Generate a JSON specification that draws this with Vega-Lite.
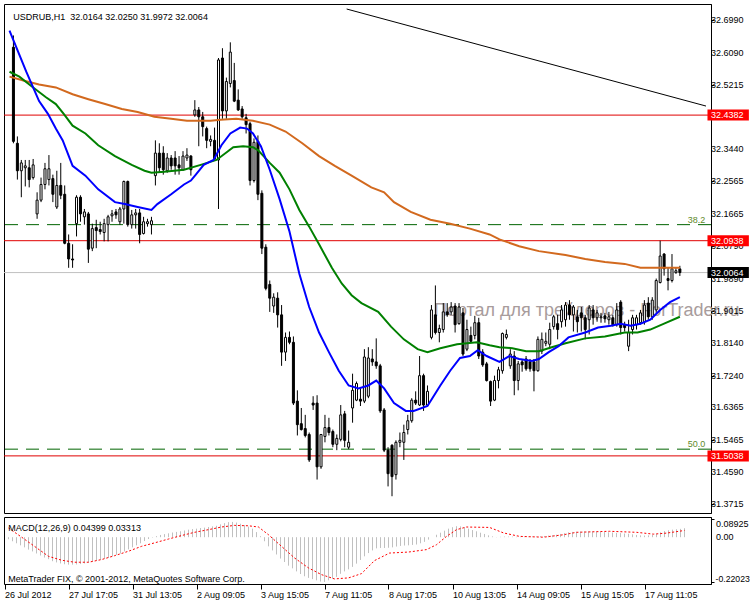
{
  "$schema": "https://vega.github.io/schema/vega-lite/v6.json",
  "background": "white",
  "padding": {"left": 3, "top": 3, "right": 0, "bottom": 0},
  "spacing": 2,
  "config": {
    "view": {"stroke": "#000000", "strokeWidth": 1},
    "axis": {"grid": false, "labelFont": "Liberation Sans", "labelFontSize": 9, "labelColor": "#000000", "tickColor": "#000000", "domainColor": "#000000", "labelOverlap": false, "labelBound": false, "labelFlush": false},
    "text": {"font": "Liberation Sans", "fontSize": 9}
  },
  "datasets": {
    "candles": [
      {"i":0,"o":32.6243,"h":32.6566,"l":32.3609,"c":32.3662},
      {"i":1,"o":32.3609,"h":32.3797,"l":32.2614,"c":32.2856},
      {"i":2,"o":32.2856,"h":32.3152,"l":32.2130,"c":32.3071},
      {"i":3,"o":32.2937,"h":32.3152,"l":32.2426,"c":32.2990},
      {"i":4,"o":32.2937,"h":32.3152,"l":32.2400,"c":32.2614},
      {"i":5,"o":32.2668,"h":32.3179,"l":32.2614,"c":32.3017},
      {"i":6,"o":32.1673,"h":32.2265,"l":32.1539,"c":32.2050},
      {"i":7,"o":32.2050,"h":32.2668,"l":32.1996,"c":32.2480},
      {"i":8,"o":32.2480,"h":32.3071,"l":32.2346,"c":32.2910},
      {"i":9,"o":32.2614,"h":32.3286,"l":32.2453,"c":32.2910},
      {"i":10,"o":32.2641,"h":32.2749,"l":32.1996,"c":32.2211},
      {"i":11,"o":32.1862,"h":32.2856,"l":32.1808,"c":32.2453},
      {"i":12,"o":32.2453,"h":32.3071,"l":32.2077,"c":32.2184},
      {"i":13,"o":32.2211,"h":32.2453,"l":32.0840,"c":32.0867},
      {"i":14,"o":32.0867,"h":32.1109,"l":32.0195,"c":32.0437},
      {"i":15,"o":32.0437,"h":32.0840,"l":32.0195,"c":32.0410},
      {"i":16,"o":32.1405,"h":32.2184,"l":32.1055,"c":32.2130},
      {"i":17,"o":32.2130,"h":32.2184,"l":32.1458,"c":32.1673},
      {"i":18,"o":32.1593,"h":32.1808,"l":32.1378,"c":32.1727},
      {"i":19,"o":32.1673,"h":32.1727,"l":32.0329,"c":32.0706},
      {"i":20,"o":32.0733,"h":32.1405,"l":32.0652,"c":32.1270},
      {"i":21,"o":32.1297,"h":32.1512,"l":32.0733,"c":32.1216},
      {"i":22,"o":32.1243,"h":32.1458,"l":32.1109,"c":32.1190},
      {"i":23,"o":32.1163,"h":32.1539,"l":32.0920,"c":32.1405},
      {"i":24,"o":32.1378,"h":32.1647,"l":32.0920,"c":32.1593},
      {"i":25,"o":32.1620,"h":32.1781,"l":32.1458,"c":32.1673},
      {"i":26,"o":32.1727,"h":32.1808,"l":32.1539,"c":32.1647},
      {"i":27,"o":32.1458,"h":32.1862,"l":32.1378,"c":32.1808},
      {"i":28,"o":32.1808,"h":32.2587,"l":32.1405,"c":32.2561},
      {"i":29,"o":32.2561,"h":32.2587,"l":32.1324,"c":32.1378},
      {"i":30,"o":32.1378,"h":32.1781,"l":32.1270,"c":32.1647},
      {"i":31,"o":32.1647,"h":32.1808,"l":32.1270,"c":32.1700},
      {"i":32,"o":32.1700,"h":32.1808,"l":32.0867,"c":32.1109},
      {"i":33,"o":32.1136,"h":32.1593,"l":32.1109,"c":32.1458},
      {"i":34,"o":32.1405,"h":32.1539,"l":32.1324,"c":32.1458},
      {"i":35,"o":32.1378,"h":32.1593,"l":32.1109,"c":32.1485},
      {"i":36,"o":32.2722,"h":32.3689,"l":32.2453,"c":32.3340},
      {"i":37,"o":32.3340,"h":32.3609,"l":32.2802,"c":32.2937},
      {"i":38,"o":32.3340,"h":32.3528,"l":32.2749,"c":32.2883},
      {"i":39,"o":32.2856,"h":32.3340,"l":32.2802,"c":32.3206},
      {"i":40,"o":32.3206,"h":32.3286,"l":32.2883,"c":32.2990},
      {"i":41,"o":32.3206,"h":32.3394,"l":32.2749,"c":32.2990},
      {"i":42,"o":32.3017,"h":32.3259,"l":32.2749,"c":32.2937},
      {"i":43,"o":32.2883,"h":32.3394,"l":32.2856,"c":32.3259},
      {"i":44,"o":32.3206,"h":32.3474,"l":32.3125,"c":32.3286},
      {"i":45,"o":32.3259,"h":32.3286,"l":32.2722,"c":32.2883},
      {"i":46,"o":32.4388,"h":32.4792,"l":32.4335,"c":32.4523},
      {"i":47,"o":32.4523,"h":32.4603,"l":32.3528,"c":32.4335},
      {"i":48,"o":32.4335,"h":32.4469,"l":32.3797,"c":32.4066},
      {"i":49,"o":32.4012,"h":32.4066,"l":32.3474,"c":32.3689},
      {"i":50,"o":32.3662,"h":32.3824,"l":32.3528,"c":32.3716},
      {"i":51,"o":32.3689,"h":32.4039,"l":32.3152,"c":32.3179},
      {"i":52,"o":32.3152,"h":32.5947,"l":32.1808,"c":32.5894},
      {"i":53,"o":32.5947,"h":32.6216,"l":32.4281,"c":32.4496},
      {"i":54,"o":32.4496,"h":32.5410,"l":32.4281,"c":32.5302},
      {"i":55,"o":32.5249,"h":32.6377,"l":32.5141,"c":32.6109},
      {"i":56,"o":32.5329,"h":32.5813,"l":32.4738,"c":32.4765},
      {"i":57,"o":32.4792,"h":32.5087,"l":32.4496,"c":32.4523},
      {"i":58,"o":32.4550,"h":32.4630,"l":32.4281,"c":32.4335},
      {"i":59,"o":32.4308,"h":32.4415,"l":32.3878,"c":32.4120},
      {"i":60,"o":32.4146,"h":32.4200,"l":32.2453,"c":32.2587},
      {"i":61,"o":32.2587,"h":32.3743,"l":32.2534,"c":32.3636},
      {"i":62,"o":32.3662,"h":32.3824,"l":32.2050,"c":32.2211},
      {"i":63,"o":32.2238,"h":32.2319,"l":32.0572,"c":32.0733},
      {"i":64,"o":32.0760,"h":32.0840,"l":31.9577,"c":31.9631},
      {"i":65,"o":31.9738,"h":31.9846,"l":31.8986,"c":31.9362},
      {"i":66,"o":31.9147,"h":31.9496,"l":31.8959,"c":31.9389},
      {"i":67,"o":31.9362,"h":31.9523,"l":31.8556,"c":31.8905},
      {"i":68,"o":31.8905,"h":31.9174,"l":31.7507,"c":31.7883},
      {"i":69,"o":31.7883,"h":31.8421,"l":31.7641,"c":31.8287},
      {"i":70,"o":31.8287,"h":31.8448,"l":31.8098,"c":31.8152},
      {"i":71,"o":31.8152,"h":31.8313,"l":31.6432,"c":31.6486},
      {"i":72,"o":31.6539,"h":31.6835,"l":31.5598,"c":31.5894},
      {"i":73,"o":31.5921,"h":31.6351,"l":31.5733,"c":31.5760},
      {"i":74,"o":31.5787,"h":31.6163,"l":31.5545,"c":31.5598},
      {"i":75,"o":31.5625,"h":31.5679,"l":31.4872,"c":31.4927},
      {"i":76,"o":31.6486,"h":31.6674,"l":31.6298,"c":31.6432},
      {"i":77,"o":31.6486,"h":31.6701,"l":31.4389,"c":31.4738},
      {"i":78,"o":31.4738,"h":31.5625,"l":31.4684,"c":31.5625},
      {"i":79,"o":31.5572,"h":31.6163,"l":31.5410,"c":31.5814},
      {"i":80,"o":31.5814,"h":31.6082,"l":31.5598,"c":31.5679},
      {"i":81,"o":31.5706,"h":31.5760,"l":31.5276,"c":31.5356},
      {"i":82,"o":31.5356,"h":31.5625,"l":31.5195,"c":31.5518},
      {"i":83,"o":31.5491,"h":31.6432,"l":31.5437,"c":31.6163},
      {"i":84,"o":31.6190,"h":31.6271,"l":31.5276,"c":31.5464},
      {"i":85,"o":31.5276,"h":31.5733,"l":31.5222,"c":31.5410},
      {"i":86,"o":31.6351,"h":31.7292,"l":31.5948,"c":31.6835},
      {"i":87,"o":31.6566,"h":31.7077,"l":31.6539,"c":31.7023},
      {"i":88,"o":31.6593,"h":31.6889,"l":31.6405,"c":31.6539},
      {"i":89,"o":31.6539,"h":31.7964,"l":31.6486,"c":31.7749},
      {"i":90,"o":31.6674,"h":31.8018,"l":31.6620,"c":31.7722},
      {"i":91,"o":31.7695,"h":31.7964,"l":31.7507,"c":31.7615},
      {"i":92,"o":31.7615,"h":31.8260,"l":31.7426,"c":31.7507},
      {"i":93,"o":31.7507,"h":31.7561,"l":31.6217,"c":31.6271},
      {"i":94,"o":31.6298,"h":31.6351,"l":31.5142,"c":31.5195},
      {"i":95,"o":31.5195,"h":31.5276,"l":31.4201,"c":31.4550},
      {"i":96,"o":31.5330,"h":31.5356,"l":31.3932,"c":31.4470},
      {"i":97,"o":31.4523,"h":31.5464,"l":31.4389,"c":31.5410},
      {"i":98,"o":31.5410,"h":31.5679,"l":31.5276,"c":31.5464},
      {"i":99,"o":31.5410,"h":31.5894,"l":31.4927,"c":31.5679},
      {"i":100,"o":31.5760,"h":31.6163,"l":31.5625,"c":31.6002},
      {"i":101,"o":31.6002,"h":31.6620,"l":31.5948,"c":31.6566},
      {"i":102,"o":31.6566,"h":31.6808,"l":31.6432,"c":31.6486},
      {"i":103,"o":31.6432,"h":31.7776,"l":31.6405,"c":31.7238},
      {"i":104,"o":31.7238,"h":31.7292,"l":31.6271,"c":31.6432},
      {"i":105,"o":31.6432,"h":31.6969,"l":31.6405,"c":31.6808},
      {"i":106,"o":31.8287,"h":31.9174,"l":31.8233,"c":31.9040},
      {"i":107,"o":31.8905,"h":31.9711,"l":31.8367,"c":31.8421},
      {"i":108,"o":31.8421,"h":31.8636,"l":31.8152,"c":31.8529},
      {"i":109,"o":31.8502,"h":31.9227,"l":31.8421,"c":31.8986},
      {"i":110,"o":31.8986,"h":31.9227,"l":31.8852,"c":31.8905},
      {"i":111,"o":31.8986,"h":31.9254,"l":31.8905,"c":31.9120},
      {"i":112,"o":31.9147,"h":31.9227,"l":31.8421,"c":31.8636},
      {"i":113,"o":31.8663,"h":31.9227,"l":31.8636,"c":31.9120},
      {"i":114,"o":31.8959,"h":31.9093,"l":31.7776,"c":31.7830},
      {"i":115,"o":31.7964,"h":31.8771,"l":31.7910,"c":31.8502},
      {"i":116,"o":31.8340,"h":31.8582,"l":31.8152,"c":31.8179},
      {"i":117,"o":31.8340,"h":31.8878,"l":31.8233,"c":31.8690},
      {"i":118,"o":31.8690,"h":31.8825,"l":31.7695,"c":31.7776},
      {"i":119,"o":31.7883,"h":31.7964,"l":31.7480,"c":31.7534},
      {"i":120,"o":31.7561,"h":31.7615,"l":31.7077,"c":31.7104},
      {"i":121,"o":31.7077,"h":31.7104,"l":31.6405,"c":31.6539},
      {"i":122,"o":31.6566,"h":31.7238,"l":31.6539,"c":31.7104},
      {"i":123,"o":31.7104,"h":31.7480,"l":31.6889,"c":31.7400},
      {"i":124,"o":31.7373,"h":31.8421,"l":31.7292,"c":31.8394},
      {"i":125,"o":31.8287,"h":31.8502,"l":31.8233,"c":31.8367},
      {"i":126,"o":31.7507,"h":31.7964,"l":31.7426,"c":31.7830},
      {"i":127,"o":31.7776,"h":31.7910,"l":31.6701,"c":31.7104},
      {"i":128,"o":31.7104,"h":31.7641,"l":31.6835,"c":31.7561},
      {"i":129,"o":31.7615,"h":31.7695,"l":31.7346,"c":31.7534},
      {"i":130,"o":31.7695,"h":31.7776,"l":31.7373,"c":31.7426},
      {"i":131,"o":31.7615,"h":31.7695,"l":31.7346,"c":31.7426},
      {"i":132,"o":31.7615,"h":31.7695,"l":31.6808,"c":31.7373},
      {"i":133,"o":31.7373,"h":31.8313,"l":31.7346,"c":31.8233},
      {"i":134,"o":31.7910,"h":31.8421,"l":31.7830,"c":31.8233},
      {"i":135,"o":31.8125,"h":31.8421,"l":31.8045,"c":31.8179},
      {"i":136,"o":31.8098,"h":31.8690,"l":31.7964,"c":31.8502},
      {"i":137,"o":31.8582,"h":31.8905,"l":31.8502,"c":31.8852},
      {"i":138,"o":31.8663,"h":31.8905,"l":31.8233,"c":31.8502},
      {"i":139,"o":31.8717,"h":31.9174,"l":31.8556,"c":31.9040},
      {"i":140,"o":31.8771,"h":31.9254,"l":31.8582,"c":31.9174},
      {"i":141,"o":31.9174,"h":31.9308,"l":31.8771,"c":31.8905},
      {"i":142,"o":31.8905,"h":31.9174,"l":31.8448,"c":31.9120},
      {"i":143,"o":31.8852,"h":31.9040,"l":31.8421,"c":31.8717},
      {"i":144,"o":31.8959,"h":31.9120,"l":31.8448,"c":31.8825},
      {"i":145,"o":31.8825,"h":31.8905,"l":31.8233,"c":31.8502},
      {"i":146,"o":31.8771,"h":31.9174,"l":31.8367,"c":31.9093},
      {"i":147,"o":31.9040,"h":31.9174,"l":31.8636,"c":31.8825},
      {"i":148,"o":31.8825,"h":31.9040,"l":31.8717,"c":31.8959},
      {"i":149,"o":31.8825,"h":31.8959,"l":31.8690,"c":31.8852},
      {"i":150,"o":31.8878,"h":31.8959,"l":31.8690,"c":31.8798},
      {"i":151,"o":31.8771,"h":31.8986,"l":31.8636,"c":31.8852},
      {"i":152,"o":31.8825,"h":31.8905,"l":31.8582,"c":31.8636},
      {"i":153,"o":31.8636,"h":31.9227,"l":31.8582,"c":31.9040},
      {"i":154,"o":31.9254,"h":31.9308,"l":31.8367,"c":31.8556},
      {"i":155,"o":31.8636,"h":31.8717,"l":31.8448,"c":31.8556},
      {"i":156,"o":31.8045,"h":31.8771,"l":31.7910,"c":31.8421},
      {"i":157,"o":31.8502,"h":31.8905,"l":31.8367,"c":31.8825},
      {"i":158,"o":31.8636,"h":31.8905,"l":31.8502,"c":31.8825},
      {"i":159,"o":31.8690,"h":31.9040,"l":31.8636,"c":31.8959},
      {"i":160,"o":31.8717,"h":31.9308,"l":31.8636,"c":31.9174},
      {"i":161,"o":31.9227,"h":31.9389,"l":31.8771,"c":31.8852},
      {"i":162,"o":31.8852,"h":31.9389,"l":31.8771,"c":31.9308},
      {"i":163,"o":31.9040,"h":31.9900,"l":31.8959,"c":31.9846},
      {"i":164,"o":31.9792,"h":32.0938,"l":31.9765,"c":32.0518},
      {"i":165,"o":32.0572,"h":32.0598,"l":31.9980,"c":32.0168},
      {"i":166,"o":31.9900,"h":32.0195,"l":31.9577,"c":31.9846},
      {"i":167,"o":31.9846,"h":32.0572,"l":31.9792,"c":32.0168},
      {"i":168,"o":32.0061,"h":32.0195,"l":32.0034,"c":32.0114},
      {"i":169,"o":32.0164,"h":32.0250,"l":31.9972,"c":32.0064}
    ],
    "ma": [
      {"ma":"slow","i":-1,"p":32.5437},{"ma":"slow","i":2.5,"p":32.5329},{"ma":"slow","i":6.5,"p":32.5222},{"ma":"slow","i":10.75,"p":32.5141},
      {"ma":"slow","i":15,"p":32.4953},{"ma":"slow","i":19,"p":32.4818},{"ma":"slow","i":23.25,"p":32.4684},{"ma":"slow","i":27.5,"p":32.4550},
      {"ma":"slow","i":31.5,"p":32.4469},{"ma":"slow","i":35.75,"p":32.4335},{"ma":"slow","i":40,"p":32.4281},{"ma":"slow","i":44,"p":32.4227},
      {"ma":"slow","i":50,"p":32.4227},{"ma":"slow","i":52.5,"p":32.4254},{"ma":"slow","i":56.5,"p":32.4281},{"ma":"slow","i":60.75,"p":32.4227},
      {"ma":"slow","i":65,"p":32.4120},{"ma":"slow","i":69,"p":32.3931},{"ma":"slow","i":73.25,"p":32.3609},{"ma":"slow","i":77.5,"p":32.3259},
      {"ma":"slow","i":81.5,"p":32.2990},{"ma":"slow","i":85.75,"p":32.2722},{"ma":"slow","i":90.75,"p":32.2400},{"ma":"slow","i":94,"p":32.2265},
      {"ma":"slow","i":96.5,"p":32.1996},{"ma":"slow","i":100.75,"p":32.1727},{"ma":"slow","i":105.75,"p":32.1512},{"ma":"slow","i":110.75,"p":32.1405},
      {"ma":"slow","i":115.75,"p":32.1270},{"ma":"slow","i":120.75,"p":32.1109},{"ma":"slow","i":123.25,"p":32.0975},{"ma":"slow","i":128.25,"p":32.0786},
      {"ma":"slow","i":133.25,"p":32.0652},{"ma":"slow","i":140,"p":32.0544},{"ma":"slow","i":145,"p":32.0437},{"ma":"slow","i":150,"p":32.0356},
      {"ma":"slow","i":155,"p":32.0302},{"ma":"slow","i":159,"p":32.0195},{"ma":"slow","i":163.25,"p":32.0195},{"ma":"slow","i":169,"p":32.0195},
      {"ma":"medium","i":-1,"p":32.5571},{"ma":"medium","i":1.5,"p":32.5437},{"ma":"medium","i":5,"p":32.5141},{"ma":"medium","i":8.25,"p":32.4872},
      {"ma":"medium","i":10.75,"p":32.4684},{"ma":"medium","i":12.75,"p":32.4415},{"ma":"medium","i":15,"p":32.4093},{"ma":"medium","i":18.25,"p":32.3878},
      {"ma":"medium","i":21.5,"p":32.3555},{"ma":"medium","i":25.75,"p":32.3259},{"ma":"medium","i":30,"p":32.3017},{"ma":"medium","i":33.25,"p":32.2856},
      {"ma":"medium","i":35,"p":32.2802},{"ma":"medium","i":38.25,"p":32.2829},{"ma":"medium","i":43.25,"p":32.2883},{"ma":"medium","i":47.5,"p":32.3017},
      {"ma":"medium","i":51.5,"p":32.3152},{"ma":"medium","i":55.75,"p":32.3501},{"ma":"medium","i":58.25,"p":32.3528},{"ma":"medium","i":60.75,"p":32.3501},
      {"ma":"medium","i":62,"p":32.3421},{"ma":"medium","i":65,"p":32.3071},{"ma":"medium","i":67.5,"p":32.2802},{"ma":"medium","i":70,"p":32.2346},
      {"ma":"medium","i":72.5,"p":32.1781},{"ma":"medium","i":75,"p":32.1324},{"ma":"medium","i":77.5,"p":32.0840},{"ma":"medium","i":80.75,"p":32.0195},
      {"ma":"medium","i":83.25,"p":31.9765},{"ma":"medium","i":85.75,"p":31.9442},{"ma":"medium","i":88.25,"p":31.9227},{"ma":"medium","i":92.5,"p":31.8986},
      {"ma":"medium","i":95.75,"p":31.8582},{"ma":"medium","i":99,"p":31.8233},{"ma":"medium","i":102.5,"p":31.7964},{"ma":"medium","i":105,"p":31.7883},
      {"ma":"medium","i":108.25,"p":31.7991},{"ma":"medium","i":112.5,"p":31.8098},{"ma":"medium","i":117.5,"p":31.8152},{"ma":"medium","i":120.75,"p":31.8072},
      {"ma":"medium","i":123.25,"p":31.8018},{"ma":"medium","i":126.5,"p":31.7991},{"ma":"medium","i":130,"p":31.7910},{"ma":"medium","i":133.25,"p":31.7910},
      {"ma":"medium","i":136.5,"p":31.8018},{"ma":"medium","i":140,"p":31.8125},{"ma":"medium","i":145,"p":31.8260},{"ma":"medium","i":150,"p":31.8313},
      {"ma":"medium","i":155,"p":31.8421},{"ma":"medium","i":158.25,"p":31.8421},{"ma":"medium","i":161.5,"p":31.8502},{"ma":"medium","i":165,"p":31.8663},
      {"ma":"medium","i":169,"p":31.8852},
      {"ma":"fast","i":-1,"p":32.6700},{"ma":"fast","i":3.25,"p":32.5571},{"ma":"fast","i":6.5,"p":32.4765},{"ma":"fast","i":8.75,"p":32.4415},
      {"ma":"fast","i":10.75,"p":32.4012},{"ma":"fast","i":12.5,"p":32.3689},{"ma":"fast","i":15,"p":32.2990},{"ma":"fast","i":18.25,"p":32.2722},
      {"ma":"fast","i":21.5,"p":32.2346},{"ma":"fast","i":25.75,"p":32.1996},{"ma":"fast","i":28.25,"p":32.1942},{"ma":"fast","i":31.5,"p":32.1862},
      {"ma":"fast","i":35,"p":32.1781},{"ma":"fast","i":36.5,"p":32.1942},{"ma":"fast","i":40,"p":32.2211},{"ma":"fast","i":43.25,"p":32.2480},
      {"ma":"fast","i":45,"p":32.2587},{"ma":"fast","i":46.25,"p":32.2749},{"ma":"fast","i":48.25,"p":32.3017},{"ma":"fast","i":50.75,"p":32.3152},
      {"ma":"fast","i":52.75,"p":32.3555},{"ma":"fast","i":55,"p":32.3878},{"ma":"fast","i":57.5,"p":32.4039},{"ma":"fast","i":59.25,"p":32.4012},
      {"ma":"fast","i":60.75,"p":32.3878},{"ma":"fast","i":62.75,"p":32.3528},{"ma":"fast","i":65,"p":32.2883},{"ma":"fast","i":67.5,"p":32.2077},
      {"ma":"fast","i":70,"p":32.1190},{"ma":"fast","i":72.5,"p":32.0034},{"ma":"fast","i":75,"p":31.9120},{"ma":"fast","i":77.5,"p":31.8421},
      {"ma":"fast","i":80,"p":31.7883},{"ma":"fast","i":82.5,"p":31.7373},{"ma":"fast","i":85,"p":31.6969},{"ma":"fast","i":87.5,"p":31.6889},
      {"ma":"fast","i":90,"p":31.6969},{"ma":"fast","i":92,"p":31.7104},{"ma":"fast","i":94,"p":31.6889},{"ma":"fast","i":96.5,"p":31.6486},
      {"ma":"fast","i":99.5,"p":31.6271},{"ma":"fast","i":101.5,"p":31.6271},{"ma":"fast","i":105,"p":31.6405},{"ma":"fast","i":108.25,"p":31.6969},
      {"ma":"fast","i":110.75,"p":31.7373},{"ma":"fast","i":113.25,"p":31.7722},{"ma":"fast","i":115.75,"p":31.7776},{"ma":"fast","i":117.75,"p":31.7937},
      {"ma":"fast","i":120,"p":31.7776},{"ma":"fast","i":123.25,"p":31.7615},{"ma":"fast","i":125.75,"p":31.7776},{"ma":"fast","i":128.25,"p":31.7695},
      {"ma":"fast","i":131.5,"p":31.7641},{"ma":"fast","i":133.25,"p":31.7695},{"ma":"fast","i":135.75,"p":31.7883},{"ma":"fast","i":138.25,"p":31.8045},
      {"ma":"fast","i":140.75,"p":31.8287},{"ma":"fast","i":145,"p":31.8421},{"ma":"fast","i":148.25,"p":31.8556},{"ma":"fast","i":151.5,"p":31.8609},
      {"ma":"fast","i":154,"p":31.8663},{"ma":"fast","i":156.5,"p":31.8609},{"ma":"fast","i":159,"p":31.8663},{"ma":"fast","i":161.5,"p":31.8771},
      {"ma":"fast","i":164,"p":31.9040},{"ma":"fast","i":166.5,"p":31.9254},{"ma":"fast","i":169,"p":31.9389}
    ],
    "levels": [
      {"price": 32.4382, "kind": "level"},
      {"price": 32.0938, "kind": "level"},
      {"price": 31.5038, "kind": "level"},
      {"price": 32.0064, "kind": "bid"}
    ],
    "fibo": [
      {"level": "38.2", "price": 32.1378},
      {"level": "50.0", "price": 31.5222}
    ],
    "trend": [
      {"i": 84.5, "p": 32.7291},
      {"i": 175.625, "p": 32.4630}
    ],
    "priceTicks": [
      {"v": 32.699}, {"v": 32.609}, {"v": 32.5215}, {"v": 32.344}, {"v": 32.2565}, {"v": 32.1665}, {"v": 32.079}, {"v": 31.989},
      {"v": 31.9015}, {"v": 31.814}, {"v": 31.724}, {"v": 31.6365}, {"v": 31.5465}, {"v": 31.459}, {"v": 31.3715}
    ],
    "macd": [
      {"i":0,"m":-0.010},{"i":1,"m":-0.020},{"i":2,"m":-0.030},{"i":3,"m":-0.040},{"i":4,"m":-0.050},{"i":5,"m":-0.061},{"i":6,"m":-0.070},{"i":7,"m":-0.080},{"i":8,"m":-0.090},{"i":9,"m":-0.100},
      {"i":10,"m":-0.108},{"i":11,"m":-0.118},{"i":12,"m":-0.124},{"i":13,"m":-0.129},{"i":14,"m":-0.133},{"i":15,"m":-0.135},{"i":16,"m":-0.135},{"i":17,"m":-0.134},{"i":18,"m":-0.132},{"i":19,"m":-0.129},
      {"i":20,"m":-0.125},{"i":21,"m":-0.120},{"i":22,"m":-0.116},{"i":23,"m":-0.111},{"i":24,"m":-0.106},{"i":25,"m":-0.102},{"i":26,"m":-0.095},{"i":27,"m":-0.087},{"i":28,"m":-0.080},{"i":29,"m":-0.070},
      {"i":30,"m":-0.060},{"i":31,"m":-0.050},{"i":32,"m":-0.040},{"i":33,"m":-0.030},{"i":34,"m":-0.019},{"i":35,"m":-0.009},{"i":36,"m":-0.002},{"i":37,"m":0.005},{"i":38,"m":0.011},{"i":39,"m":0.015},
      {"i":40,"m":0.019},{"i":41,"m":0.023},{"i":42,"m":0.026},{"i":43,"m":0.029},{"i":44,"m":0.033},{"i":45,"m":0.037},{"i":46,"m":0.040},{"i":47,"m":0.042},{"i":48,"m":0.045},{"i":49,"m":0.047},
      {"i":50,"m":0.050},{"i":51,"m":0.053},{"i":52,"m":0.056},{"i":53,"m":0.063},{"i":54,"m":0.069},{"i":55,"m":0.074},{"i":56,"m":0.075},{"i":57,"m":0.072},{"i":58,"m":0.066},{"i":59,"m":0.060},
      {"i":60,"m":0.052},{"i":61,"m":0.042},{"i":62,"m":0.025},{"i":63,"m":0.005},{"i":64,"m":-0.020},{"i":65,"m":-0.045},{"i":66,"m":-0.065},{"i":67,"m":-0.085},{"i":68,"m":-0.105},{"i":69,"m":-0.122},
      {"i":70,"m":-0.140},{"i":71,"m":-0.153},{"i":72,"m":-0.168},{"i":73,"m":-0.181},{"i":74,"m":-0.192},{"i":75,"m":-0.200},{"i":76,"m":-0.206},{"i":77,"m":-0.212},{"i":78,"m":-0.218},{"i":79,"m":-0.220},
      {"i":80,"m":-0.212},{"i":81,"m":-0.204},{"i":82,"m":-0.195},{"i":83,"m":-0.180},{"i":84,"m":-0.168},{"i":85,"m":-0.158},{"i":86,"m":-0.146},{"i":87,"m":-0.130},{"i":88,"m":-0.112},{"i":89,"m":-0.094},
      {"i":90,"m":-0.078},{"i":91,"m":-0.065},{"i":92,"m":-0.055},{"i":93,"m":-0.053},{"i":94,"m":-0.053},{"i":95,"m":-0.052},{"i":96,"m":-0.050},{"i":97,"m":-0.046},{"i":98,"m":-0.043},{"i":99,"m":-0.041},
      {"i":100,"m":-0.040},{"i":101,"m":-0.038},{"i":102,"m":-0.036},{"i":103,"m":-0.030},{"i":104,"m":-0.023},{"i":105,"m":-0.012},{"i":106,"m":0.000},{"i":107,"m":0.012},{"i":108,"m":0.022},{"i":109,"m":0.032},
      {"i":110,"m":0.042},{"i":111,"m":0.049},{"i":112,"m":0.054},{"i":113,"m":0.053},{"i":114,"m":0.049},{"i":115,"m":0.042},{"i":116,"m":0.035},{"i":117,"m":0.029},{"i":118,"m":0.022},{"i":119,"m":0.016},
      {"i":120,"m":0.009},{"i":121,"m":0.004},{"i":122,"m":0.001},{"i":123,"m":0.002},{"i":124,"m":0.003},{"i":125,"m":0.003},{"i":126,"m":0.003},{"i":127,"m":0.002},{"i":128,"m":0.002},{"i":129,"m":0.003},
      {"i":130,"m":0.003},{"i":131,"m":0.004},{"i":132,"m":0.004},{"i":133,"m":0.005},{"i":134,"m":0.006},{"i":135,"m":0.008},{"i":136,"m":0.010},{"i":137,"m":0.012},{"i":138,"m":0.016},{"i":139,"m":0.020},
      {"i":140,"m":0.024},{"i":141,"m":0.026},{"i":142,"m":0.027},{"i":143,"m":0.028},{"i":144,"m":0.029},{"i":145,"m":0.029},{"i":146,"m":0.028},{"i":147,"m":0.027},{"i":148,"m":0.026},{"i":149,"m":0.025},
      {"i":150,"m":0.024},{"i":151,"m":0.023},{"i":152,"m":0.021},{"i":153,"m":0.020},{"i":154,"m":0.018},{"i":155,"m":0.017},{"i":156,"m":0.014},{"i":157,"m":0.011},{"i":158,"m":0.009},{"i":159,"m":0.008},
      {"i":160,"m":0.009},{"i":161,"m":0.012},{"i":162,"m":0.017},{"i":163,"m":0.024},{"i":164,"m":0.030},{"i":165,"m":0.034},{"i":166,"m":0.037},{"i":167,"m":0.039},{"i":168,"m":0.041},{"i":169,"m":0.044}
    ],
    "signal": [
      {"i":0,"s":0.045},{"i":3,"s":0.004},{"i":6.5,"s":-0.045},{"i":10,"s":-0.094},{"i":13.25,"s":-0.113},{"i":16.5,"s":-0.123},
      {"i":20,"s":-0.123},{"i":23.25,"s":-0.110},{"i":26.5,"s":-0.091},{"i":30,"s":-0.069},{"i":33.25,"s":-0.045},{"i":36.5,"s":-0.028},
      {"i":40,"s":-0.009},{"i":43.25,"s":0.008},{"i":46.5,"s":0.024},{"i":50,"s":0.037},{"i":53.25,"s":0.050},{"i":56.5,"s":0.058},
      {"i":60,"s":0.056},{"i":62.5,"s":0.050},{"i":65,"s":0.012},{"i":68.25,"s":-0.045},{"i":71.5,"s":-0.102},{"i":75,"s":-0.151},
      {"i":78.25,"s":-0.184},{"i":81.5,"s":-0.205},{"i":85,"s":-0.200},{"i":88.25,"s":-0.179},{"i":91.5,"s":-0.115},{"i":95.25,"s":-0.078},
      {"i":100,"s":-0.073},{"i":104.5,"s":-0.061},{"i":107,"s":-0.037},{"i":109.5,"s":0.004},{"i":112,"s":0.037},{"i":114.5,"s":0.050},
      {"i":120.25,"s":0.048},{"i":123.75,"s":0.021},{"i":127.75,"s":0.004},{"i":133.75,"s":0.000},{"i":138.75,"s":0.012},{"i":142,"s":0.024},
      {"i":150.25,"s":0.029},{"i":157,"s":0.024},{"i":161.25,"s":0.015},{"i":164.5,"s":0.020},{"i":169,"s":0.033}
    ]
  },
  "vconcat": [
    {
      "width": 707,
      "height": 509,
      "layer": [
        {
          "data": {"name": "candles"},
          "mark": {"type": "rule", "opacity": 0},
          "encoding": {
            "x": {"field": "i", "type": "quantitative", "scale": {"domain": [-1.125, 175.625], "nice": false, "zero": false}, "axis": null},
            "y": {"field": "l", "type": "quantitative", "scale": {"domain": [31.3609, 32.7291], "nice": false, "zero": false},
              "axis": {"orient": "right", "title": null, "values": [32.699, 32.609, 32.5215, 32.344, 32.2565, 32.1665, 32.079, 31.989, 31.9015, 31.814, 31.724, 31.6365, 31.5465, 31.459, 31.3715],
                "labels": false, "tickSize": 3, "domain": true, "grid": false}},
            "y2": {"field": "h"}
          }
        },
        {
          "data": {"values": [{}]},
          "mark": {"type": "bar", "orient": "horizontal", "fill": "#ffffff", "strokeWidth": 0},
          "encoding": {
            "x": {"datum": -1.25, "type": "quantitative", "axis": null},
            "x2": {"datum": 60.5},
            "y": {"datum": 32.7305, "type": "quantitative"},
            "y2": {"datum": 32.6834}
          }
        },
        {
          "data": {"values": [{}]},
          "mark": {"type": "text", "font": "Liberation Sans", "fontSize": 18, "color": "#a89c9c", "align": "center", "baseline": "middle"},
          "encoding": {
            "x": {"datum": 145.4, "type": "quantitative", "axis": null},
            "y": {"datum": 31.900, "type": "quantitative"},
            "text": {"value": "Портал для трейдеров - ForTrader.ru"}
          }
        },
        {
          "data": {"name": "priceTicks"},
          "mark": {"type": "text", "fontSize": 9, "color": "#000000", "align": "left", "baseline": "middle"},
          "encoding": {
            "x": {"datum": 176.875, "type": "quantitative", "axis": null},
            "y": {"field": "v", "type": "quantitative"},
            "text": {"field": "v", "format": ".4f"}
          }
        },
        {
          "data": {"name": "levels"},
          "transform": [{"filter": "datum.kind == 'bid'"}],
          "mark": {"type": "rule", "color": "#c0c0c0", "strokeWidth": 1},
          "encoding": {
            "y": {"field": "price", "type": "quantitative"}
          }
        },
        {
          "data": {"name": "levels"},
          "transform": [{"filter": "datum.kind == 'level'"}],
          "mark": {"type": "rule", "color": "#e00000", "strokeWidth": 1},
          "encoding": {
            "y": {"field": "price", "type": "quantitative"}
          }
        },
        {
          "data": {"name": "fibo"},
          "mark": {"type": "rule", "color": "#006400", "strokeWidth": 1, "strokeDash": [13, 8]},
          "encoding": {
            "y": {"field": "price", "type": "quantitative"}
          }
        },
        {
          "data": {"name": "fibo"},
          "mark": {"type": "text", "color": "#5f8a2a", "fontSize": 9, "align": "right", "baseline": "alphabetic", "dy": -2},
          "encoding": {
            "x": {"datum": 175.45, "type": "quantitative", "axis": null},
            "y": {"field": "price", "type": "quantitative"},
            "text": {"field": "level"}
          }
        },
        {
          "data": {"name": "trend"},
          "mark": {"type": "line", "color": "#000000", "strokeWidth": 1, "clip": true},
          "encoding": {
            "x": {"field": "i", "type": "quantitative", "axis": null},
            "y": {"field": "p", "type": "quantitative"}
          }
        },
        {
          "data": {"name": "candles"},
          "mark": {"type": "rule", "color": "#000000", "strokeWidth": 1},
          "encoding": {
            "x": {"field": "i", "type": "quantitative", "axis": null},
            "y": {"field": "l", "type": "quantitative"},
            "y2": {"field": "h"}
          }
        },
        {
          "data": {"name": "candles"},
          "mark": {"type": "bar", "size": 2, "stroke": "#000000", "strokeWidth": 1},
          "encoding": {
            "x": {"field": "i", "type": "quantitative", "axis": null},
            "y": {"field": "o", "type": "quantitative"},
            "y2": {"field": "c"},
            "fill": {"condition": {"test": "datum.c < datum.o", "value": "#000000"}, "value": "#ffffff"}
          }
        },
        {
          "data": {"name": "ma"},
          "mark": {"type": "line", "strokeWidth": 2, "clip": true},
          "encoding": {
            "x": {"field": "i", "type": "quantitative", "axis": null},
            "y": {"field": "p", "type": "quantitative"},
            "color": {"field": "ma", "type": "nominal", "scale": {"domain": ["slow", "medium", "fast"], "range": ["#d2691e", "#008000", "#0000ff"]}, "legend": null},
            "order": {"field": "i", "type": "quantitative"}
          }
        },
        {
          "data": {"values": [{}]},
          "mark": {"type": "text", "fontSize": 9, "color": "#000000", "align": "left", "baseline": "middle"},
          "encoding": {
            "x": {"datum": -0.05, "type": "quantitative", "axis": null},
            "y": {"datum": 32.7076, "type": "quantitative"},
            "text": {"value": "USDRUB,H1\u00a0 32.0164 32.0250 31.9972 32.0064"}
          }
        },
        {
          "data": {"name": "levels"},
          "mark": {"type": "bar", "orient": "horizontal", "size": 11},
          "encoding": {
            "x": {"datum": 176.0, "type": "quantitative", "axis": null},
            "x2": {"datum": 186.5},
            "y": {"field": "price", "type": "quantitative"},
            "fill": {"condition": {"test": "datum.kind == 'bid'", "value": "#000000"}, "value": "#ff0000"}
          }
        },
        {
          "data": {"name": "levels"},
          "mark": {"type": "text", "fontSize": 9, "color": "#ffffff", "align": "left", "baseline": "middle"},
          "encoding": {
            "x": {"datum": 176.875, "type": "quantitative", "axis": null},
            "y": {"field": "price", "type": "quantitative"},
            "text": {"field": "price", "format": ".4f"}
          }
        }
      ]
    },
    {
      "width": 707,
      "height": 67,
      "layer": [
        {
          "data": {"name": "macd"},
          "mark": {"type": "rule", "color": "#c0c0c0", "strokeWidth": 1},
          "encoding": {
            "x": {"field": "i", "type": "quantitative", "scale": {"domain": [-1.125, 175.625], "nice": false, "zero": false},
              "axis": {"orient": "bottom", "title": null, "values": [-1, 15, 31, 47, 63, 79, 95, 111, 127, 143, 159],
                "labelExpr": "datum.value == -1 ? '26 Jul 2012' : datum.value == 15 ? '27 Jul 17:05' : datum.value == 31 ? '31 Jul 13:05' : datum.value == 47 ? '2 Aug 09:05' : datum.value == 63 ? '3 Aug 15:05' : datum.value == 79 ? '7 Aug 11:05' : datum.value == 95 ? '8 Aug 17:05' : datum.value == 111 ? '10 Aug 13:05' : datum.value == 127 ? '14 Aug 09:05' : datum.value == 143 ? '15 Aug 15:05' : '17 Aug 11:05'",
                "labelAlign": "left", "labelBaseline": "top", "labelPadding": 1, "tickSize": 5, "domain": false, "labelFlush": false, "labelOverlap": false, "labelBound": false, "grid": false}},
            "y": {"field": "m", "type": "quantitative", "scale": {"domain": [-0.23, 0.0992], "nice": false, "zero": false},
              "axis": {"orient": "right", "title": null, "values": [0.08925, 0, -0.22023], "labels": false,
                "tickSize": 3, "domain": true, "grid": false}},
            "y2": {"datum": 0}
          }
        },
        {
          "data": {"name": "signal"},
          "mark": {"type": "line", "color": "#ff0000", "strokeWidth": 1, "strokeDash": [2, 2]},
          "encoding": {
            "x": {"field": "i", "type": "quantitative"},
            "y": {"field": "s", "type": "quantitative"}
          }
        },
        {
          "data": {"values": [{}]},
          "mark": {"type": "text", "fontSize": 9, "color": "#000000", "align": "left", "baseline": "middle"},
          "encoding": {
            "x": {"datum": -0.05, "type": "quantitative"},
            "y": {"datum": 0.0452, "type": "quantitative"},
            "text": {"value": "MACD(12,26,9) 0.04399 0.03313"}
          }
        },
        {
          "data": {"values": [{}]},
          "mark": {"type": "text", "fontSize": 9, "color": "#000000", "align": "left", "baseline": "middle"},
          "encoding": {
            "x": {"datum": -0.05, "type": "quantitative"},
            "y": {"datum": -0.2054, "type": "quantitative"},
            "text": {"value": "MetaTrader FIX, © 2001-2012, MetaQuotes Software Corp."}
          }
        },
        {
          "data": {"values": [{}]},
          "mark": {"type": "text", "fontSize": 9, "color": "#000000", "align": "left", "baseline": "top", "dy": 1},
          "encoding": {
            "x": {"datum": 176.875, "type": "quantitative"},
            "y": {"datum": 0.08925, "type": "quantitative"},
            "text": {"value": "0.08925"}
          }
        },
        {
          "data": {"values": [{}]},
          "mark": {"type": "text", "fontSize": 9, "color": "#000000", "align": "left", "baseline": "middle"},
          "encoding": {
            "x": {"datum": 176.875, "type": "quantitative"},
            "y": {"datum": 0, "type": "quantitative"},
            "text": {"value": "0.00"}
          }
        },
        {
          "data": {"values": [{}]},
          "mark": {"type": "text", "fontSize": 8.7, "color": "#000000", "align": "left", "baseline": "alphabetic"},
          "encoding": {
            "x": {"datum": 176.75, "type": "quantitative"},
            "y": {"datum": -0.22023, "type": "quantitative"},
            "text": {"value": "-0.22023"}
          }
        }
      ]
    }
  ]
}
